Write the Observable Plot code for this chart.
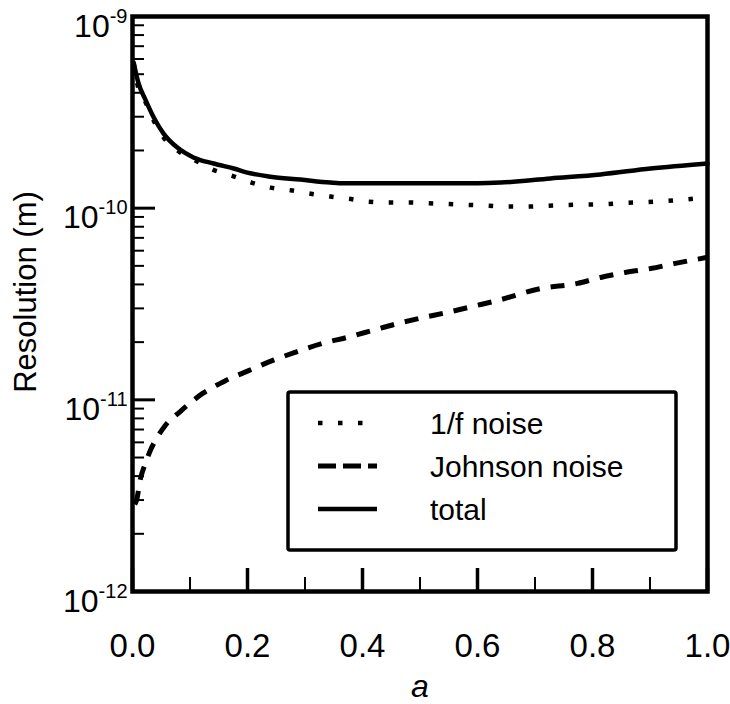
<!DOCTYPE html>
<html>
<head>
<meta charset="utf-8">
<script src="https://cdn.jsdelivr.net/npm/d3@7"></script>
<script src="https://cdn.jsdelivr.net/npm/@observablehq/plot@0.6"></script>
<style>
  body { margin: 0; background: #fff; }
  #chart svg { display: block; }
</style>
</head>
<body>
<div id="chart"></div>
<script>
// ---- data ----
const aOneOverF = [0.002, 0.009, 0.023, 0.037, 0.054, 0.08, 0.11, 0.139, 0.172, 0.207, 0.24, 0.275, 0.31, 0.344, 0.376, 0.41, 0.445, 0.48, 0.515, 0.55, 0.584, 0.619, 0.652, 0.687, 0.722, 0.757, 0.788, 0.823, 0.857, 0.892, 0.927, 0.962, 1.0];
const rOneOverF = [5.7e-10, 4.36e-10, 3.56e-10, 2.86e-10, 2.34e-10, 1.98e-10, 1.77e-10, 1.59e-10, 1.48e-10, 1.36e-10, 1.28e-10, 1.24e-10, 1.19e-10, 1.15e-10, 1.12e-10, 1.08e-10, 1.07e-10, 1.07e-10, 1.06e-10, 1.05e-10, 1.04e-10, 1.03e-10, 1.02e-10, 1.02e-10, 1.03e-10, 1.04e-10, 1.045e-10, 1.05e-10, 1.065e-10, 1.075e-10, 1.09e-10, 1.11e-10, 1.14e-10];

const aJohnson = [0.004, 0.007, 0.014, 0.023, 0.031, 0.043, 0.057, 0.083, 0.122, 0.162, 0.202, 0.245, 0.283, 0.33, 0.374, 0.417, 0.461, 0.506, 0.548, 0.591, 0.635, 0.71, 0.774, 0.814, 0.857, 0.901, 0.944, 1.0];
const rJohnson = [2.85e-12, 2.99e-12, 3.89e-12, 4.71e-12, 5.44e-12, 6.37e-12, 7.35e-12, 8.69e-12, 1.08e-11, 1.26e-11, 1.42e-11, 1.61e-11, 1.77e-11, 1.97e-11, 2.12e-11, 2.30e-11, 2.50e-11, 2.69e-11, 2.86e-11, 3.07e-11, 3.30e-11, 3.81e-11, 4.05e-11, 4.35e-11, 4.62e-11, 4.84e-11, 5.15e-11, 5.54e-11];

const aTotal = [0.002, 0.01, 0.023, 0.037, 0.054, 0.078, 0.106, 0.141, 0.176, 0.205, 0.24, 0.292, 0.344, 0.36, 0.45, 0.55, 0.6, 0.64, 0.727, 0.814, 0.901, 1.0];
const rTotal = [5.75e-10, 4.53e-10, 3.65e-10, 2.97e-10, 2.45e-10, 2.07e-10, 1.84e-10, 1.71e-10, 1.61e-10, 1.52e-10, 1.46e-10, 1.41e-10, 1.36e-10, 1.35e-10, 1.35e-10, 1.35e-10, 1.35e-10, 1.36e-10, 1.43e-10, 1.50e-10, 1.61e-10, 1.71e-10];

const seriesNames = ["1/f noise", "Johnson noise", "total"];
const xTickValues = [0, 0.2, 0.4, 0.6, 0.8, 1.0];
const xMinorTickValues = [0.1, 0.3, 0.5, 0.7, 0.9];
const yDecades = [-12, -11, -10, -9];
const xTitle = "a";
const yTitle = "Resolution (m)";

// ---- derived tables ----
const rows = (a, r, s) => a.map((v, i) => ({a: v, r: r[i], series: s}));
const dOneOverF = rows(aOneOverF, rOneOverF, seriesNames[0]);
const dJohnson = rows(aJohnson, rJohnson, seriesNames[1]);
const dTotal = rows(aTotal, rTotal, seriesNames[2]);

const yMajor = yDecades.map(e => Math.pow(10, e));
const yMinor = [];
for (const e of yDecades.slice(0, -1)) for (let k = 2; k <= 9; k++) yMinor.push(k * Math.pow(10, e));

const styles = {
  "1/f noise": {strokeWidth: 4.5, strokeDasharray: "4.5,15.5"},
  "Johnson noise": {strokeWidth: 5, strokeDasharray: "14,11"},
  "total": {strokeWidth: 4.5, strokeDasharray: null}
};

const FONT = "'Liberation Sans', Arial, Helvetica, sans-serif";
const blank = () => "";
const X_FS = 33, Y_FS = 32, SUP_FS = 20;

const plot = Plot.plot({
  width: 730,
  height: 704,
  marginLeft: 132,
  marginRight: 23,
  marginTop: 16,
  marginBottom: 113,
  style: {fontFamily: FONT, background: "#fff", color: "#000"},
  x: {domain: [0, 1]},
  y: {type: "log", domain: [1e-12, 1e-9]},
  marks: [
    // inward ticks
    Plot.axisX({ticks: xMinorTickValues, tickSize: -14, strokeWidth: 2, tickFormat: blank, label: null}),
    Plot.axisX({ticks: xTickValues, tickSize: -23, strokeWidth: 3.5, tickFormat: blank, label: null}),
    Plot.axisY({ticks: yMinor, tickSize: -12, strokeWidth: 2, tickFormat: blank, label: null}),
    Plot.axisY({ticks: yMajor, tickSize: -23, strokeWidth: 3, tickFormat: blank, label: null}),
    // tick labels
    Plot.axisX({ticks: xTickValues, tickSize: 0, tickPadding: 42, fontSize: X_FS, tickFormat: d3.format(".1f"), label: null}),
    Plot.axisY({ticks: yMajor, tickSize: 0, tickPadding: 5, fontSize: Y_FS, dy: 10,
      tickFormat: d => "10^" + Math.round(Math.log10(d)), label: null}),
    // series
    Plot.line(dOneOverF, {x: "a", y: "r", stroke: "#000", curve: "monotone-x", strokeLinecap: "butt", ...styles["1/f noise"]}),
    Plot.line(dJohnson, {x: "a", y: "r", stroke: "#000", curve: "monotone-x", strokeLinecap: "butt", ...styles["Johnson noise"]}),
    Plot.line(dTotal, {x: "a", y: "r", stroke: "#000", curve: "monotone-x", ...styles["total"]}),
    // titles
    Plot.text([xTitle], {frameAnchor: "bottom", dy: 95, fontSize: 32, fontStyle: "italic", lineAnchor: "middle", textAnchor: "middle", text: d => d}),
    Plot.text([yTitle], {frameAnchor: "left", rotate: -90, dx: -106, dy: -12, fontSize: 31, lineAnchor: "middle", textAnchor: "middle", text: d => d}),
    Plot.frame({stroke: "#000", strokeWidth: 4.5})
  ]
});

const svg = d3.select(plot);

// enforce tick label font sizes
svg.selectAll('g[aria-label="x-axis tick label"]').attr("font-size", X_FS)
  .selectAll("text").attr("font-size", X_FS);
svg.selectAll('g[aria-label="y-axis tick label"]').attr("font-size", Y_FS)
  .selectAll("text").attr("font-size", Y_FS);

// superscript exponents on the y tick labels
svg.selectAll('g[aria-label="y-axis tick label"] text').each(function () {
  const t = this.textContent;
  if (!t.includes("^")) return;
  const [base, exp] = t.split("^");
  const sel = d3.select(this);
  sel.text(base);
  sel.append("tspan").attr("dy", -14).attr("font-size", SUP_FS).text(exp);
});

// legend box inside the frame
const lg = svg.append("g").attr("aria-label", "legend");
lg.append("rect").attr("x", 288).attr("y", 392).attr("width", 388).attr("height", 158)
  .attr("rx", 2).attr("fill", "#fff").attr("stroke", "#000").attr("stroke-width", 3.5);
const legendDash = {"1/f noise": "4.5,15.5", "Johnson noise": "18,7", "total": null};
seriesNames.forEach((name, i) => {
  const cy = 423 + i * 43;
  lg.append("line").attr("x1", 318).attr("x2", 377).attr("y1", cy).attr("y2", cy)
    .attr("stroke", "#000").attr("stroke-width", styles[name].strokeWidth)
    .attr("stroke-dasharray", legendDash[name]);
  lg.append("text").attr("x", 430).attr("y", cy).attr("dy", "0.35em")
    .attr("text-anchor", "start")
    .attr("font-size", 30).attr("font-family", FONT).attr("fill", "#000").text(name);
});

document.getElementById("chart").appendChild(plot);
</script>
</body>
</html>
